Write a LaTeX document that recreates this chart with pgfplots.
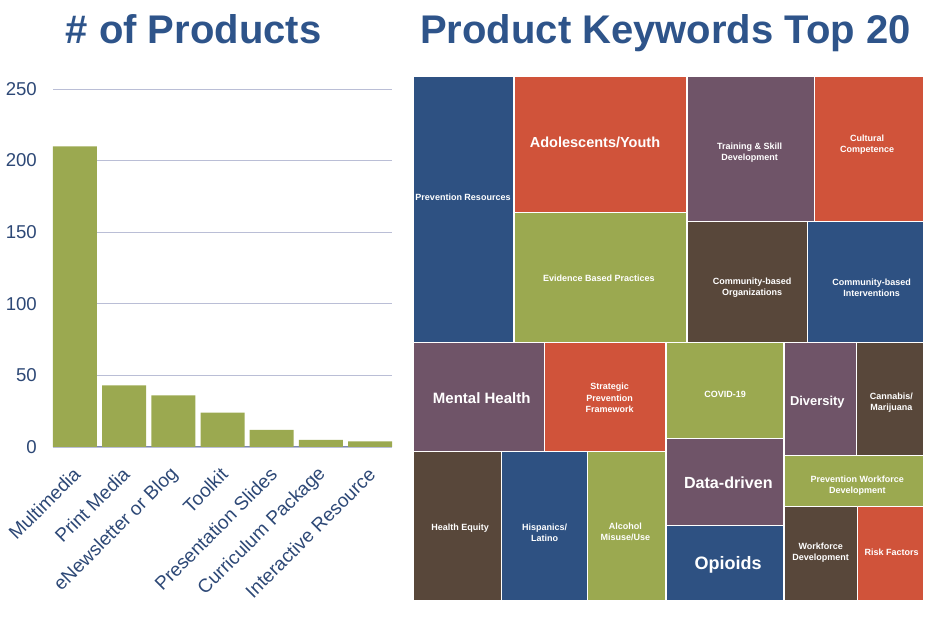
\documentclass[border=0pt]{standalone}
\usepackage{fontspec}
\setmainfont{Liberation Sans}
\usepackage{pgfplots}
\pgfplotsset{compat=1.18}
\definecolor{tblue}{RGB}{46,84,138}
\definecolor{tmblue}{RGB}{46,81,130}
\definecolor{tmred}{RGB}{208,83,58}
\definecolor{tmpurple}{RGB}{111,84,104}
\definecolor{tmgreen}{RGB}{155,169,80}
\definecolor{tmbrown}{RGB}{88,71,58}
\definecolor{ticktext}{RGB}{45,72,118}
\definecolor{gridc}{RGB}{186,190,214}
\definecolor{axisc}{RGB}{125,135,175}
\newcommand{\tile}[5]{\addplot[fill=#5, draw=white, line width=1.5bp] coordinates {(#1,#2) (#3,#2) (#3,#4) (#1,#4) (#1,#2)};}
\begin{document}
\begin{tikzpicture}[x=1bp,y=1bp,
  tml/.style={font=\fontsize{9bp}{11bp}\selectfont\bfseries, text=white, align=center, inner sep=0pt}]
\path[use as bounding box] (0,0) rectangle (947,618);
\node[anchor=base, font=\fontsize{40bp}{48bp}\selectfont\bfseries, text=tblue, inner sep=0pt] at (193.5,574) {\# of Products};
\node[anchor=base, font=\fontsize{40bp}{48bp}\selectfont\bfseries, text=tblue, inner sep=0pt] at (665.5,574) {Product Keywords Top 20};
\begin{axis}[at={(53bp,171bp)}, anchor=south west, scale only axis, width=339bp, height=358bp,
  xmin=-0.447, xmax=6.447, ymin=0, ymax=250, ytick={0,50,...,250}, xtick={0,...,6},
  xticklabels={Multimedia, Print Media, eNewsletter or Blog, Toolkit, Presentation Slides, Curriculum Package, Interactive Resource},
  axis lines*=left, y axis line style={draw=none}, x axis line style={draw=axisc, line width=1bp, -},
  major tick length=0pt, ymajorgrids, grid style={gridc, line width=0.9bp},
  /pgf/number format/assume math mode=true,
  yticklabel style={font=\fontsize{18.6bp}{20bp}\selectfont, text=ticktext, anchor=east, inner sep=0pt, xshift=-16bp},
  xticklabel style={font=\fontsize{19bp}{21bp}\selectfont, text=ticktext, inner sep=0pt, xshift=2bp, yshift=-24bp, rotate=45, anchor=east},
  clip=false]
\addplot[ybar, bar width=44bp, fill=tmgreen, draw=none] coordinates {(0,210) (1,43) (2,36) (3,24) (4,12) (5,5) (6,4)};
\end{axis}
\begin{axis}[at={(413bp,17bp)}, anchor=south west, scale only axis, width=511bp, height=525bp,
  xmin=413, xmax=924, ymin=76, ymax=601, y dir=reverse, hide axis, clip=false]
\tile{413}{76}{514}{342.5}{tmblue}
\tile{514}{76}{687}{212.5}{tmred}
\tile{514}{212.5}{687}{342.5}{tmgreen}
\tile{687}{76}{814.5}{221.5}{tmpurple}
\tile{814.5}{76}{924}{221.5}{tmred}
\tile{687}{221.5}{807.5}{342.5}{tmbrown}
\tile{807.5}{221.5}{924}{342.5}{tmblue}
\tile{413}{342.5}{544.5}{451.5}{tmpurple}
\tile{544.5}{342.5}{666}{451.5}{tmred}
\tile{413}{451.5}{501.5}{601}{tmbrown}
\tile{501.5}{451.5}{587.5}{601}{tmblue}
\tile{587.5}{451.5}{666}{601}{tmgreen}
\tile{666}{342.5}{784}{438.5}{tmgreen}
\tile{666}{438.5}{784}{525.5}{tmpurple}
\tile{666}{525.5}{784}{601}{tmblue}
\tile{784}{342.5}{856.5}{455.5}{tmpurple}
\tile{856.5}{342.5}{924}{455.5}{tmbrown}
\tile{784}{455.5}{924}{506.5}{tmgreen}
\tile{784}{506.5}{857.5}{601}{tmbrown}
\tile{857.5}{506.5}{924}{601}{tmred}
\node[tml] at (axis cs:463,197.7) {Prevention Resources};
\node[tml, font=\fontsize{14.5bp}{17bp}\selectfont\bfseries] at (axis cs:595,142) {Adolescents/Youth};
\node[tml] at (axis cs:598.8,278.3) {Evidence Based Practices};
\node[tml] at (axis cs:749.5,152.8) {Training \& Skill\\Development};
\node[tml] at (axis cs:867,144.8) {Cultural\\Competence};
\node[tml] at (axis cs:752,287.7) {Community-based\\Organizations};
\node[tml] at (axis cs:871.5,287.7) {Community-based\\Interventions};
\node[tml, font=\fontsize{15bp}{18bp}\selectfont\bfseries] at (axis cs:481.7,398) {Mental Health};
\node[tml, font=\fontsize{9bp}{11.7bp}\selectfont\bfseries] at (axis cs:609.7,398) {Strategic\\Prevention\\Framework};
\node[tml] at (axis cs:725,394) {COVID-19};
\node[tml, font=\fontsize{12.9bp}{15bp}\selectfont\bfseries] at (axis cs:817.3,402) {Diversity};
\node[tml] at (axis cs:891.3,402.5) {Cannabis/\\Marijuana};
\node[tml, font=\fontsize{16.1bp}{19bp}\selectfont\bfseries] at (axis cs:728.3,483) {Data-driven};
\node[tml] at (axis cs:857.3,485.2) {Prevention Workforce\\Development};
\node[tml] at (axis cs:460,527.7) {Health Equity};
\node[tml] at (axis cs:544.7,532.8) {Hispanics/\\Latino};
\node[tml] at (axis cs:625.3,532.2) {Alcohol\\Misuse/Use};
\node[tml, font=\fontsize{18bp}{21bp}\selectfont\bfseries] at (axis cs:728,565.3) {Opioids};
\node[tml] at (axis cs:820.7,552.5) {Workforce\\Development};
\node[tml] at (axis cs:891.7,552) {Risk Factors};
\end{axis}
\end{tikzpicture}
\end{document}
